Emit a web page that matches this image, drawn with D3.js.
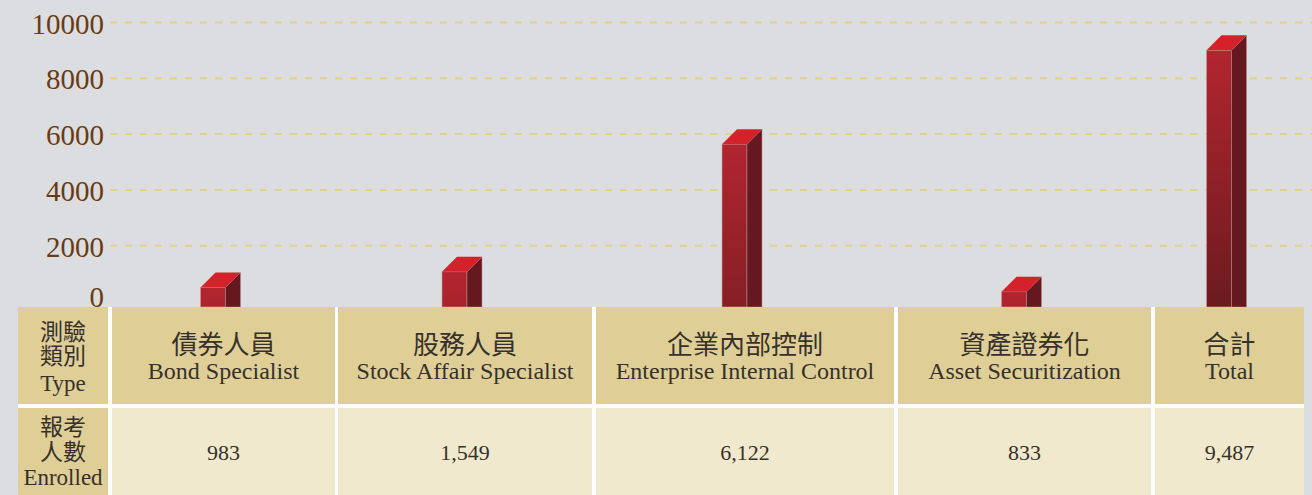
<!DOCTYPE html>
<html>
<head>
<meta charset="utf-8">
<script src="https://cdn.jsdelivr.net/npm/d3@7"></script>
<style>
  body { margin: 0; background: #dcdde0; }
  svg { display: block; }
  text { font-family: "Liberation Serif", "Noto Sans CJK TC", serif; }
</style>
</head>
<body>
<div id="chart"></div>
<script>
// Data
var categoriesZh = ["債券人員", "股務人員", "企業內部控制", "資產證券化", "合計"];
var categoriesEn = ["Bond Specialist", "Stock Affair Specialist", "Enterprise Internal Control", "Asset Securitization", "Total"];
var enrolled = [983, 1549, 6122, 833, 9487];
var yTicks = [0, 2000, 4000, 6000, 8000, 10000];
var typeHead = ["測驗", "類別", "Type"];
var enrolledHead = ["報考", "人數", "Enrolled"];

var svgWidth = 1312;
var svgHeight = 495;

// table layout
var firstCol = [18, 108];
var colEdges = [[112, 335], [338, 592], [596, 894], [898, 1151], [1155, 1304]];
var headTop = 307, headBottom = 404, rowTop = 408, rowBottom = 495;

var svg = d3.select("#chart")
    .append("svg")
    .attr("width", svgWidth)
    .attr("height", svgHeight);

svg.append("rect")
    .attr("width", svgWidth)
    .attr("height", svgHeight)
    .attr("fill", "#dcdde0");

var yScale = d3.scaleLinear()
    .domain([0, 10000])
    .range([301, 22]);

// column centers from the table layout
var xCenter = d3.scaleOrdinal()
    .domain(categoriesZh)
    .range(colEdges.map(e => (e[0] + e[1]) / 2));

// y axis with dashed gridlines
var axisLeft = d3.axisLeft(yScale)
    .tickValues(yTicks)
    .tickFormat(d3.format("d"))
    .tickSize(-(svgWidth - 110))
    .tickPadding(6);

var yAxis = svg.append("g")
    .attr("transform", "translate(110,0)")
    .call(axisLeft);

yAxis.select(".domain").remove();
yAxis.selectAll(".tick line")
    .attr("stroke", "#e4cf8c")
    .attr("stroke-width", 2)
    .attr("stroke-dasharray", "7,8")
    .attr("opacity", d => d === 0 ? 0 : 1);
yAxis.selectAll(".tick text")
    .attr("fill", "#6a3b12")
    .attr("font-size", 29)
    // the zero label sits a little higher, above the table
    .attr("dy", d => d === 0 ? "0.18em" : "0.38em");

// 3D bars
var barW = 25, depth = 15, lift = 14;
var baseY = headTop;
var topRed = "#b2252f", bottomRed = "#6b1b1f";
var maxH = baseY - (yScale(d3.max(enrolled)) + lift);

var defs = svg.append("defs");
var bars = svg.append("g");

enrolled.forEach(function (v, i) {
    var cx = xCenter(categoriesZh[i]);
    var x0 = cx - 23;
    var ft = yScale(v) + lift;
    var h = baseY - ft;

    var grad = defs.append("linearGradient")
        .attr("id", "g" + i)
        .attr("x1", 0).attr("y1", 0).attr("x2", 0).attr("y2", 1);
    grad.append("stop").attr("offset", 0).attr("stop-color", topRed);
    grad.append("stop").attr("offset", 1)
        .attr("stop-color", d3.interpolateRgb(topRed, bottomRed)(h / maxH));

    // front
    bars.append("rect")
        .attr("x", x0)
        .attr("y", ft)
        .attr("width", barW)
        .attr("height", h)
        .attr("fill", "url(#g" + i + ")")
        .attr("stroke", "#c99aa0")
        .attr("stroke-width", 0.6);

    // side
    bars.append("polygon")
        .attr("points", [
            [x0 + barW, ft], [x0 + barW + depth, ft - depth],
            [x0 + barW + depth, baseY], [x0 + barW, baseY]
        ].join(" "))
        .attr("fill", "#65181f")
        .attr("stroke", "#b98a90")
        .attr("stroke-width", 0.5);

    // top
    bars.append("polygon")
        .attr("points", [
            [x0, ft], [x0 + depth, ft - depth],
            [x0 + barW + depth, ft - depth], [x0 + barW, ft]
        ].join(" "))
        .attr("fill", "#d4222b");
});

// table
var table = svg.append("g");

table.append("rect")
    .attr("x", firstCol[0])
    .attr("y", headTop)
    .attr("width", colEdges[4][1] - firstCol[0])
    .attr("height", rowBottom - headTop)
    .attr("fill", "#ffffff");

var allCols = [firstCol].concat(colEdges);
allCols.forEach(function (e, i) {
    table.append("rect")
        .attr("x", e[0]).attr("y", headTop)
        .attr("width", e[1] - e[0]).attr("height", headBottom - headTop)
        .attr("fill", "#dfcf97");
    table.append("rect")
        .attr("x", e[0]).attr("y", rowTop)
        .attr("width", e[1] - e[0]).attr("height", rowBottom - rowTop)
        .attr("fill", i === 0 ? "#dfcf97" : "#f0e9cd");
});

var textColor = "#37312c";
var fc = (firstCol[0] + firstCol[1]) / 2;

// first column labels
[332, 356, 383].forEach(function (y, j) {
    table.append("text")
        .attr("x", fc).attr("y", y).attr("dy", "0.36em")
        .attr("text-anchor", "middle")
        .attr("font-size", j < 2 ? 23 : 23)
        .attr("fill", textColor)
        .text(typeHead[j]);
});
[427, 452, 477].forEach(function (y, j) {
    table.append("text")
        .attr("x", fc).attr("y", y).attr("dy", "0.36em")
        .attr("text-anchor", "middle")
        .attr("font-size", 23)
        .attr("fill", textColor)
        .text(enrolledHead[j]);
});

// header and values
categoriesZh.forEach(function (c, i) {
    var cx = xCenter(c);
    table.append("text")
        .attr("x", cx).attr("y", 345).attr("dy", "0.36em")
        .attr("text-anchor", "middle")
        .attr("font-size", 26)
        .attr("fill", textColor)
        .text(c);
    table.append("text")
        .attr("x", cx).attr("y", 371).attr("dy", "0.35em")
        .attr("text-anchor", "middle")
        .attr("font-size", 24)
        .attr("fill", textColor)
        .text(categoriesEn[i]);
    table.append("text")
        .attr("x", cx).attr("y", 452).attr("dy", "0.35em")
        .attr("text-anchor", "middle")
        .attr("font-size", 22)
        .attr("fill", textColor)
        .text(d3.format(",")(enrolled[i]));
});
</script>
</body>
</html>
